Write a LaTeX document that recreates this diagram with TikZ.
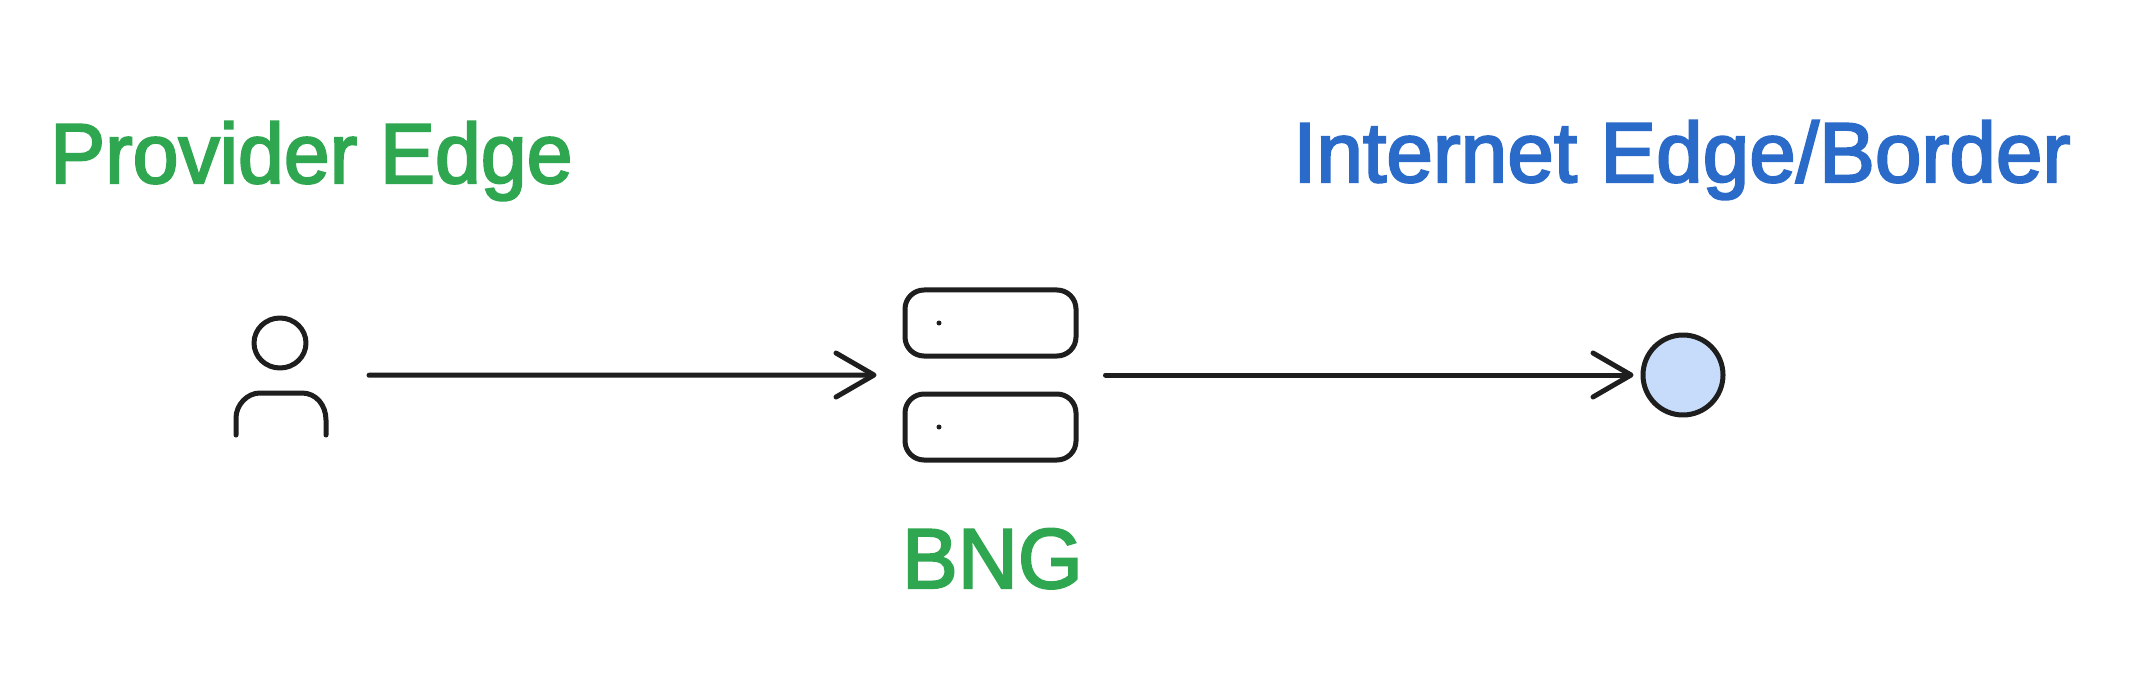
\documentclass[tikz,border=0pt]{standalone}
\usepackage{fontspec}
\newfontfamily\handfont[FakeBold=2.6]{Liberation Sans}
\usetikzlibrary{arrows.meta,fit,shapes.geometric}
\definecolor{ink}{HTML}{1E1E1E}
\definecolor{leafgreen}{HTML}{2FA650}
\definecolor{edgeblue}{HTML}{2A6AC8}
\definecolor{paleblue}{HTML}{C7DCFB}
\tikzset{
  x=1pt,y=-1pt,
  title/.style={anchor=base west,inner sep=0pt,font=\handfont\fontsize{85}{100}\selectfont},
  stroke/.style={draw=ink,line width=5pt,line cap=round,line join=round},
  rack/.style={stroke,rectangle,rounded corners=19pt,minimum width=171pt,minimum height=66pt,inner sep=0pt},
  led/.style={circle,fill=ink,draw=none,minimum size=5pt,inner sep=0pt},
  head/.style={stroke,ellipse,minimum width=52pt,minimum height=50pt,inner sep=0pt},
  ghost/.style={inner sep=0pt,outer sep=0pt,draw=none},
  flow/.style={stroke,-{Straight Barb[round,length=38pt,width=44pt]}},
  globe/.style={stroke,circle,fill=paleblue,minimum size=80pt,inner sep=0pt}
}
\begin{document}
\begin{tikzpicture}
\useasboundingbox (0,0) rectangle (2144,676);
\fill[white] (0,0) rectangle (2144,676);
\node[title,text=leafgreen] (ptitle) at (50,183) {\scalebox{0.97}[1]{Provider Edge}};
\node[title,text=edgeblue] (ititle) at (1293,182) {\scalebox{0.985}[1]{Internet Edge/Border}};
\node[title,text=leafgreen] (btitle) at (902,588) {\scalebox{0.98}[1]{BNG}};
% user
\node[head] (uhead) at (280,343) {};
\coordinate (ul) at (236,435);
\coordinate (ur) at (326,435);
\draw[stroke] (ul) -- (236,418) .. controls (236,405) and (247,393) .. (260,393) -- (302,393) .. controls (316,393) and (326,405) .. (326,420) -- (ur);
\node[ghost,fit=(uhead)(ul)(ur)] (user) {};
% bng
\node[rack] (r1) at (990.5,323) {};
\node[rack] (r2) at (990.5,427) {};
\node[led] (l1) at (939,323) {};
\node[led] (l2) at (939,427) {};
\node[ghost,fit=(r1)(r2)] (bng) {};
% internet
\node[globe] (inet) at (1683,375) {};
% arrows
\draw[flow,shorten <=43pt,shorten >=26pt] (user.east) -- (bng.west);
\draw[flow,shorten <=27pt,shorten >=7pt] (bng.east) -- (inet.west);
\end{tikzpicture}
\end{document}
